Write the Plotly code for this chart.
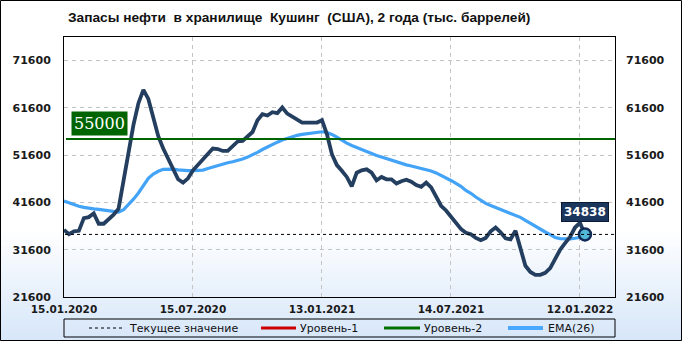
import plotly.graph_objects as go
import pandas as pd

title_text = "Запасы нефти  в хранилище  Кушинг  (США), 2 года (тыс. баррелей)"
start_date = "2020-01-15"

stocks = [35800, 34900, 35500, 35600, 38300, 38500, 39300, 37100, 37100, 38100,
          39000, 40300, 46000, 52500, 58000, 62600, 65400, 63500, 59500, 55600,
          53000, 50800, 48300, 46500, 45800, 46700, 48400, 49600, 50800, 51700,
          53000, 52900, 52500, 52500, 53400, 54500, 54600, 55500, 56500, 59000,
          60300, 60000, 60700, 60500, 61700, 60400, 59800, 59100, 58500, 58500,
          58500, 58500, 59000, 56000, 51800, 49500, 48300, 47000, 45000, 47900,
          48400, 48600, 47900, 46300, 47000, 46500, 46500, 45600, 46100, 46400,
          46000, 45300, 44900, 45800, 44800, 42700, 40900, 39900, 38600, 37000,
          36000, 35200, 34900, 34100, 33600, 34100, 35500, 36300, 35300, 34000,
          33800, 35600, 31800, 28200, 26900, 26300, 26300, 26700, 27700, 29600,
          31600, 33000, 34300, 36300, 37300, 34838]

ema26 = [41900, 41500, 41100, 40800, 40550, 40350, 40230, 40130, 39980, 39820,
         39650, 39550, 40050, 41100, 42300, 43600, 45300, 46700, 47600, 48200,
         48600, 48650, 48650, 48500, 48350, 48350, 48350, 48400, 48450, 48800,
         49100, 49500, 49800, 50000, 50200, 50450, 50800, 51200, 51650, 52200,
         52800, 53350, 53900, 54350, 54800, 55150, 55550, 55800, 56000, 56150,
         56250, 56350, 56550, 56400, 56000, 55400, 54700, 54150, 53650, 53200,
         52750, 52300, 51900, 51550, 51200, 50850, 50500, 50200, 49850, 49550,
         49300, 49050, 48800, 48550, 48250, 47850, 47350, 46850, 46250, 45650,
         45000, 44150, 43550, 42750, 42050, 41400, 40950, 40550, 40100, 39650,
         39300, 38950, 38450, 37800, 37150, 36550, 35900, 35350, 34800, 34200,
         33950, 33850, 33900, 34030, 34200, 34400]

level2 = 55000
y_ticks = [21600, 31600, 41600, 51600, 61600, 71600]
x_tick_dates = ["2020-01-15", "2020-07-15", "2021-01-13", "2021-07-14", "2022-01-12"]
legend_labels = ["Текущее значение", "Уровень-1", "Уровень-2", "EMA(26)"]

dates = pd.date_range(start_date, periods=len(stocks), freq="7D")
last_value = stocks[-1]

W, H = 682, 341
L, R, T, B = 64, 615, 37, 297
pw, ph = R - L, B - T


def px_x(px):
    return (px - L) / pw


def px_y(py):
    return (B - py) / ph


fig = go.Figure()

fig.add_trace(go.Scatter(x=dates, y=ema26, mode="lines",
                         line=dict(color="#42a3f7", width=3.2),
                         hoverinfo="skip", showlegend=False))
fig.add_trace(go.Scatter(x=dates, y=stocks, mode="lines",
                         line=dict(color="#233e5f", width=3.8),
                         hoverinfo="skip", showlegend=False))
fig.add_trace(go.Scatter(x=[dates[-1]], y=[last_value], mode="markers",
                         marker=dict(size=12, color="#52b8d8",
                                     line=dict(color="#0f2a55", width=2.5)),
                         hoverinfo="skip", showlegend=False))

shapes = []
# background gradient
y_start, y_end = 228, 341
c0 = (255, 255, 255)
c1 = (214, 230, 249)
step = 3
py = y_start
while py < y_end:
    t = (py - y_start) / (y_end - y_start)
    col = tuple(int(round(c0[i] + (c1[i] - c0[i]) * t)) for i in range(3))
    shapes.append(dict(type="rect", xref="paper", yref="paper",
                       x0=px_x(0), x1=px_x(W), y0=px_y(py + step + 0.5), y1=px_y(py),
                       line=dict(width=0), fillcolor="rgb(%d,%d,%d)" % col, layer="below"))
    py += step

# level-2 line
shapes.append(dict(type="line", xref="paper", yref="y", x0=px_x(66), x1=1,
                   y0=level2, y1=level2, line=dict(color="#006400", width=2)))
# current value dashed line
shapes.append(dict(type="line", xref="paper", yref="y", x0=px_x(65), x1=1,
                   y0=last_value, y1=last_value,
                   line=dict(color="#000000", width=1, dash="3px,3px")))
# outer border
shapes.append(dict(type="rect", xref="paper", yref="paper",
                   x0=px_x(0.5), x1=px_x(W - 0.5), y0=px_y(H - 0.5), y1=px_y(0.5),
                   line=dict(color="#000000", width=1)))
# legend box
shapes.append(dict(type="rect", xref="paper", yref="paper",
                   x0=px_x(64), x1=px_x(615), y0=px_y(337), y1=px_y(319),
                   line=dict(color="#000000", width=1)))
ly = px_y(328)
legend_samples = [
    (89, 122, "#000000", 1, "3px,3px"),
    (261, 296, "#cc0000", 3, "solid"),
    (384, 420, "#007000", 3, "solid"),
    (508, 543, "#4aa8ff", 4, "solid"),
]
for x0, x1, c, w, d in legend_samples:
    shapes.append(dict(type="line", xref="paper", yref="paper", x0=px_x(x0), x1=px_x(x1),
                       y0=ly, y1=ly, line=dict(color=c, width=w, dash=d)))

annotations = []
legend_text_x = [127, 298, 422, 546]
for lbl, tx in zip(legend_labels, legend_text_x):
    annotations.append(dict(text=lbl, xref="paper", yref="paper", x=px_x(tx), y=ly,
                            xanchor="left", yanchor="middle", showarrow=False,
                            font=dict(family="DejaVu Sans", size=11, color="#111111")))

annotations.append(dict(text=str(level2), xref="paper", yref="y", x=px_x(71), y=level2,
                        xanchor="left", yanchor="bottom", yshift=3, showarrow=False,
                        bgcolor="#006400", borderpad=2,
                        font=dict(family="DejaVu Serif", size=16, color="#ffffff")))
annotations.append(dict(text="<b>%d</b>" % last_value, xref="x", yref="y", x=dates[-1],
                        y=last_value, xanchor="center", yanchor="bottom", yshift=12,
                        showarrow=False, bgcolor="#1b365d", bordercolor="#0a1a33",
                        borderwidth=1, borderpad=2,
                        font=dict(family="DejaVu Sans", size=12, color="#ffffff")))

tick_font = dict(family="DejaVu Sans", size=11, color="#1a1a1a", weight="bold")

fig.update_layout(
    width=W, height=H,
    margin=dict(l=L, r=W - R, t=T, b=H - B),
    paper_bgcolor="#ffffff",
    plot_bgcolor="rgba(0,0,0,0)",
    showlegend=False,
    title=dict(text="<b>" + title_text + "</b>", x=68 / W, xanchor="left",
               y=1 - 17 / H, yanchor="middle",
               font=dict(family="Liberation Sans Narrow, Arial Narrow, Liberation Sans",
                         size=13.7, color="#111111")),
    shapes=shapes,
    annotations=annotations,
    xaxis=dict(
        type="date",
        range=["2020-01-15", "2022-03-02 10:00"],
        tickvals=x_tick_dates,
        tickformat="%d.%m.%Y",
        tickfont=dict(family="DejaVu Sans", size=10.5, color="#1a1a1a", weight="bold"),
        showgrid=True, gridcolor="#c4c4c4", griddash="4px,4px", gridwidth=1,
        showline=True, linecolor="#000000", linewidth=1, mirror=True,
        ticks="", zeroline=False, ticklabelstandoff=2,
    ),
    yaxis=dict(
        range=[21600, 76600],
        tickvals=y_ticks,
        tickformat="d",
        tickfont=tick_font,
        showgrid=True, gridcolor="#c4c4c4", griddash="4px,4px", gridwidth=1,
        showline=True, linecolor="#000000", linewidth=1, mirror=True,
        ticks="", zeroline=False, ticklabelstandoff=10,
    ),
    yaxis2=dict(
        range=[21600, 76600],
        tickvals=y_ticks,
        tickformat="d",
        tickfont=tick_font,
        overlaying="y", side="right", showgrid=False, showline=False,
        ticks="", zeroline=False, ticklabelstandoff=10,
    ),
)

# invisible trace to activate right axis labels
fig.add_trace(go.Scatter(x=[dates[0]], y=[y_ticks[0]], yaxis="y2", mode="markers",
                         marker=dict(opacity=0), hoverinfo="skip", showlegend=False))

fig.write_html("out.html", config={"displayModeBar": False})
